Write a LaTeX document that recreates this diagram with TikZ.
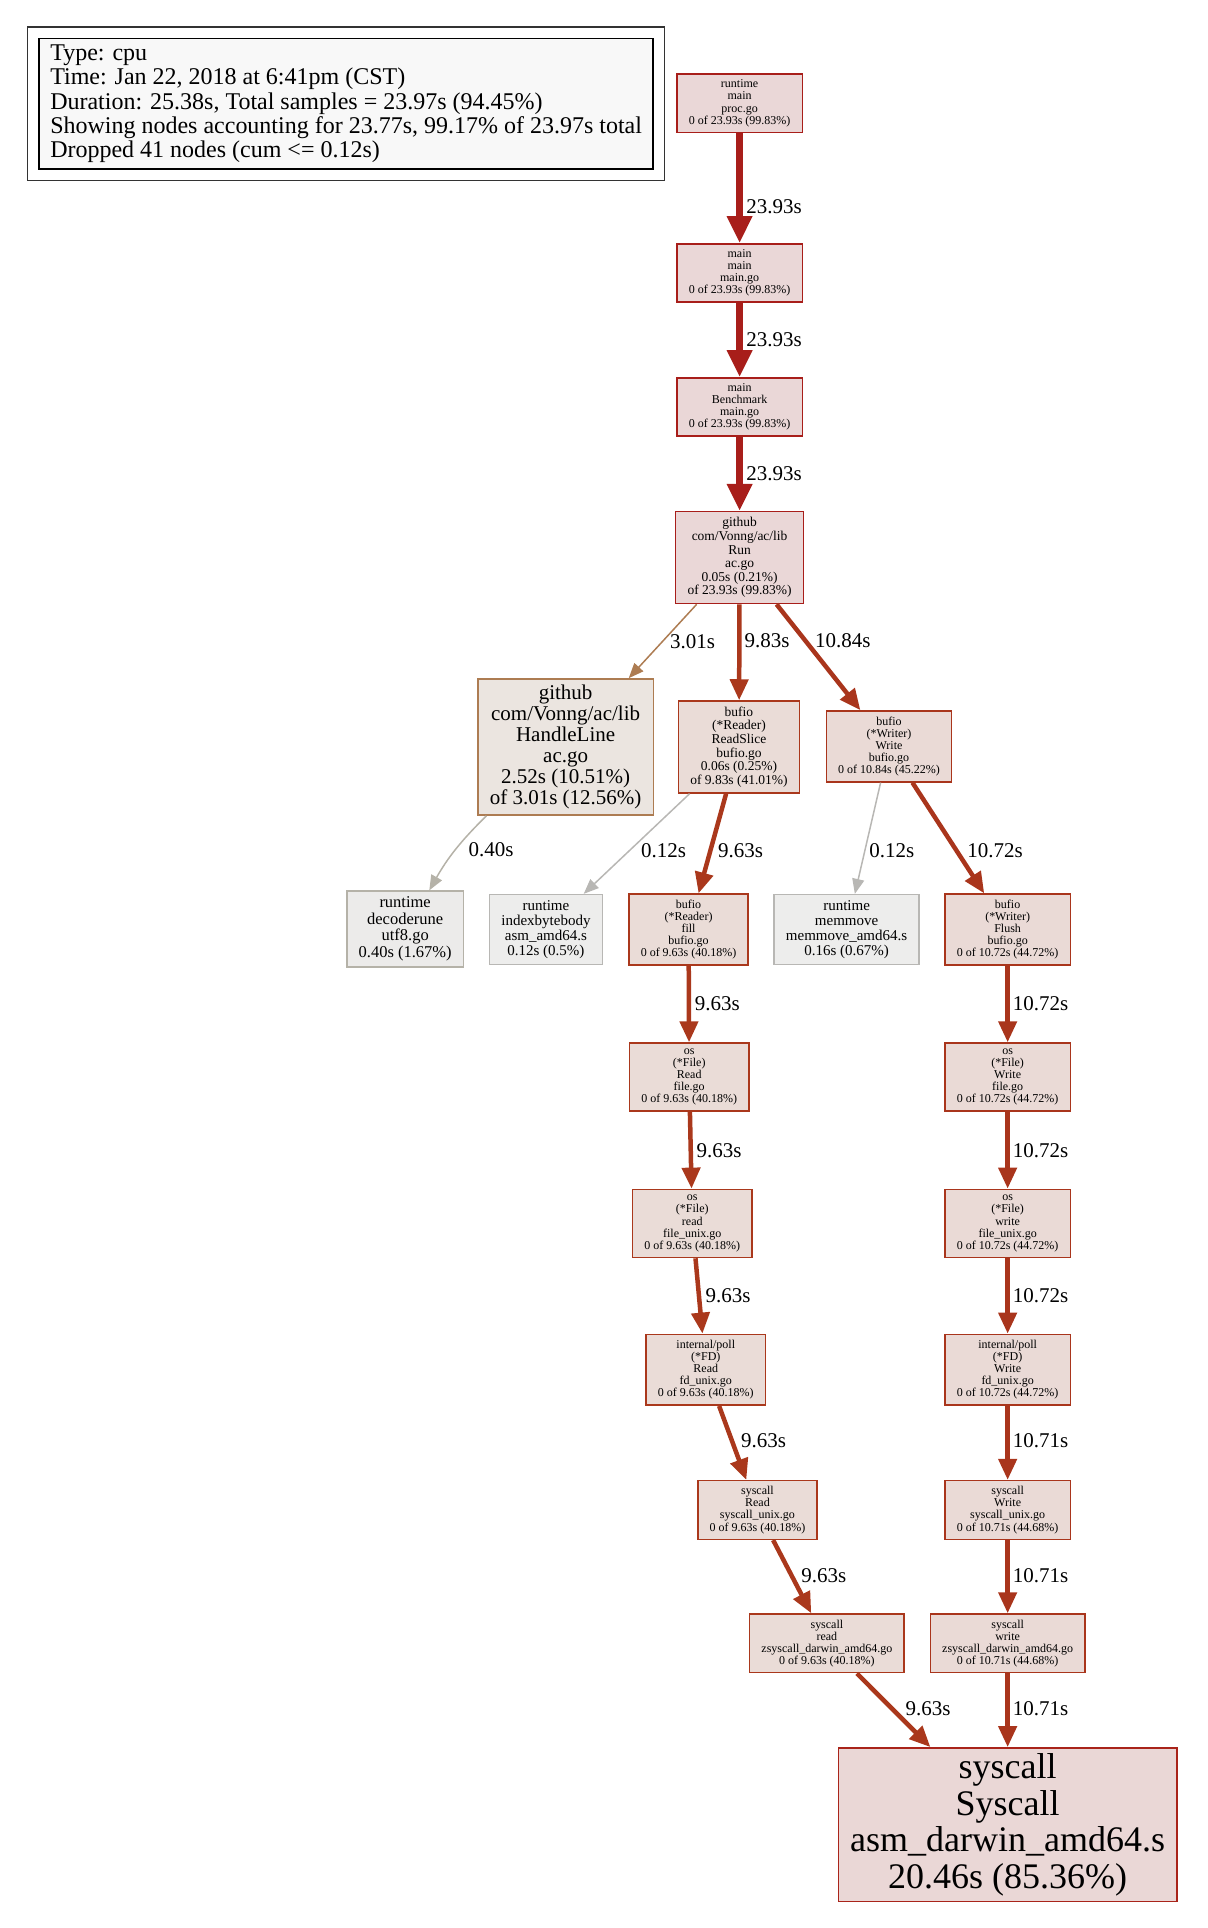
\documentclass[tikz,border=0pt]{standalone}
\usepackage{fontspec}
\setmainfont{Liberation Serif}
\usetikzlibrary{arrows.meta, fit}

\definecolor{hotline}{HTML}{A81E1A}
\definecolor{hotfill}{HTML}{EAD7D7}
\definecolor{readline}{HTML}{AA381C}
\definecolor{readfill}{HTML}{EADCD7}
\definecolor{writeline}{HTML}{A9351C}
\definecolor{writefill}{HTML}{EADAD6}
\definecolor{sinkline}{HTML}{A9241A}
\definecolor{sinkfill}{HTML}{EAD7D6}
\definecolor{mildline}{HTML}{AD7C52}
\definecolor{mildfill}{HTML}{EBE5E0}
\definecolor{coolline}{HTML}{B5B2A8}
\definecolor{coolfill}{HTML}{ECEBEA}
\definecolor{coldline}{HTML}{B8B7B4}
\definecolor{coldfill}{HTML}{EDEDEC}
\definecolor{legendfill}{HTML}{F8F8F8}

\tikzstyle{func} = [
    rectangle,
    align=center,
    inner xsep=7.9pt,
    inner ysep=3.8pt,
    line width=1pt,
    draw
]
\tikzstyle{hot} = [func, draw=hotline, fill=hotfill]
\tikzstyle{readpath} = [func, draw=readline, fill=readfill]
\tikzstyle{writepath} = [func, draw=writeline, fill=writefill]
\tikzstyle{sink} = [func, draw=sinkline, fill=sinkfill]
\tikzstyle{mild} = [func, draw=mildline, fill=mildfill]
\tikzstyle{cool} = [func, draw=coolline, fill=coolfill]
\tikzstyle{cold} = [func, draw=coldline, fill=coldfill]

\tikzstyle{fs8} = [font=\fontsize{8}{8.1}\selectfont]
\tikzstyle{fs9} = [font=\fontsize{9}{9.1}\selectfont]
\tikzstyle{fs10} = [font=\fontsize{10}{10.1}\selectfont]
\tikzstyle{fs11} = [font=\fontsize{11}{11.1}\selectfont]
\tikzstyle{fs14} = [font=\fontsize{14}{14.1}\selectfont]
\tikzstyle{fs24} = [font=\fontsize{24}{24.4}\selectfont]

\tikzstyle{arrow} = [->, >={Triangle[length=8pt 2, width=6pt 2]}]
\tikzstyle{fat} = [arrow, line width=5pt]
\tikzstyle{bold} = [arrow, line width=3pt]
\tikzstyle{slim} = [arrow, line width=1pt]
\tikzstyle{lbl} = [font=\fontsize{14}{14}\selectfont, text=black, inner sep=0pt, anchor=west]

\begin{document}
\begin{tikzpicture}[x=0.82pt, y=-0.82pt]

\useasboundingbox (0,0) rectangle (982,1568);

% legend
\node (legend) [draw, fill=legendfill, line width=1pt, align=left,
    inner xsep=7.4pt, inner ysep=4.2pt,
    font=\fontsize{16}{16.2}\selectfont] at (281.5,84.5)
{Type: cpu\\
Time: Jan 22, 2018 at 6:41pm (CST)\\
Duration: 25.38s, Total samples = 23.97s (94.45\%)\\
Showing nodes accounting for 23.77s, 99.17\% of 23.97s total\\
Dropped 41 nodes (cum <= 0.12s)};
\node (frame) [draw=black!80, line width=1pt, fit=(legend), inner sep=7.2pt] {};

% call chain
\node (rtmain) [hot, fs8] at (601.5,84)
{runtime\\main\\proc.go\\0 of 23.93s (99.83\%)};

\node (mainmain) [hot, fs8] at (601.5,222)
{main\\main\\main.go\\0 of 23.93s (99.83\%)};

\node (bench) [hot, fs8] at (601.5,331)
{main\\Benchmark\\main.go\\0 of 23.93s (99.83\%)};

\node (run) [hot, fs9] at (601.5,453.5)
{github\\com/Vonng/ac/lib\\Run\\ac.go\\0.05s (0.21\%)\\of 23.93s (99.83\%)};

\node (hl) [mild, fs14] at (460,607.5)
{github\\com/Vonng/ac/lib\\HandleLine\\ac.go\\2.52s (10.51\%)\\of 3.01s (12.56\%)};

\node (rs) [readpath, fs9] at (601,607.5)
{bufio\\(*Reader)\\ReadSlice\\bufio.go\\0.06s (0.25\%)\\of 9.83s (41.01\%)};

\node (bw) [writepath, fs8] at (723,607)
{bufio\\(*Writer)\\Write\\bufio.go\\0 of 10.84s (45.22\%)};

\node (dec) [cool, fs11] at (329.5,755.5)
{runtime\\decoderune\\utf8.go\\0.40s (1.67\%)};

\node (ibb) [cold, fs10] at (444,756)
{runtime\\indexbytebody\\asm\_amd64.s\\0.12s (0.5\%)};

\node (fill) [readpath, fs8] at (560,756)
{bufio\\(*Reader)\\fill\\bufio.go\\0 of 9.63s (40.18\%)};

\node (mm) [cold, fs10] at (688.5,756)
{runtime\\memmove\\memmove\_amd64.s\\0.16s (0.67\%)};

\node (flush) [writepath, fs8] at (819.5,756)
{bufio\\(*Writer)\\Flush\\bufio.go\\0 of 10.72s (44.72\%)};

\node (osR) [readpath, fs8] at (560.5,876)
{os\\(*File)\\Read\\file.go\\0 of 9.63s (40.18\%)};

\node (osW) [writepath, fs8] at (819.5,876)
{os\\(*File)\\Write\\file.go\\0 of 10.72s (44.72\%)};

\node (osr) [readpath, fs8] at (563,995)
{os\\(*File)\\read\\file\_unix.go\\0 of 9.63s (40.18\%)};

\node (osw) [writepath, fs8] at (819.5,995)
{os\\(*File)\\write\\file\_unix.go\\0 of 10.72s (44.72\%)};

\node (pollR) [readpath, fs8] at (574,1114)
{internal/poll\\(*FD)\\Read\\fd\_unix.go\\0 of 9.63s (40.18\%)};

\node (pollW) [writepath, fs8] at (819.5,1114)
{internal/poll\\(*FD)\\Write\\fd\_unix.go\\0 of 10.72s (44.72\%)};

\node (scR) [readpath, fs8] at (616,1228)
{syscall\\Read\\syscall\_unix.go\\0 of 9.63s (40.18\%)};

\node (scW) [writepath, fs8] at (819.5,1228)
{syscall\\Write\\syscall\_unix.go\\0 of 10.71s (44.68\%)};

\node (zr) [readpath, fs8] at (672.5,1336.5)
{syscall\\read\\zsyscall\_darwin\_amd64.go\\0 of 9.63s (40.18\%)};

\node (zw) [writepath, fs8] at (819.5,1336.5)
{syscall\\write\\zsyscall\_darwin\_amd64.go\\0 of 10.71s (44.68\%)};

\node (sys) [sink, fs24] at (819.5,1484)
{syscall\\Syscall\\asm\_darwin\_amd64.s\\20.46s (85.36\%)};

% edges
\draw [fat, hotline] (rtmain) -- node[lbl, pos=0.67, xshift=2pt] {23.93s} (mainmain);
\draw [fat, hotline] (mainmain) -- node[lbl, xshift=2pt] {23.93s} (bench);
\draw [fat, hotline] (bench) -- node[lbl, xshift=2pt] {23.93s} (run);
\draw [slim, mildline] (run) -- node[lbl, xshift=4.5pt] {3.01s} (hl);
\draw [bold, readline] (run) -- node[lbl, pos=0.38, xshift=2pt] {9.83s} (rs);
\draw [bold, writeline] (run) -- node[lbl, pos=0.345, xshift=5pt] {10.84s} (bw);
\draw [slim, coolline] (hl.221) to[bend right=8] node[lbl, pos=0.48, xshift=8pt] {0.40s} (dec.58);
\draw [slim, coldline] (rs) -- node[lbl, pos=0.57, xshift=7.4pt] {0.12s} (ibb);
\draw [bold, readline] (rs) -- node[lbl, pos=0.57, xshift=3.7pt] {9.63s} (fill);
\draw [slim, coldline] (bw) -- node[lbl, pos=0.615, xshift=2.5pt] {0.12s} (mm);
\draw [bold, writeline] (bw) -- node[lbl, pos=0.615, xshift=5.7pt] {10.72s} (flush);
\draw [bold, readline] (fill) -- node[lbl, xshift=2.5pt] {9.63s} (osR);
\draw [bold, writeline] (flush) -- node[lbl, xshift=2pt] {10.72s} (osW);
\draw [bold, readline] (osR) -- node[lbl, xshift=2.5pt] {9.63s} (osr);
\draw [bold, writeline] (osW) -- node[lbl, xshift=2pt] {10.72s} (osw);
\draw [bold, readline] (osr) -- node[lbl, xshift=3pt] {9.63s} (pollR);
\draw [bold, writeline] (osw) -- node[lbl, xshift=2pt] {10.72s} (pollW);
\draw [bold, readline] (pollR) -- node[lbl, pos=0.475, xshift=4.6pt] {9.63s} (scR);
\draw [bold, writeline] (pollW) -- node[lbl, pos=0.475, xshift=2pt] {10.71s} (scW);
\draw [bold, readline] (scR) -- node[lbl, pos=0.48, xshift=5.2pt] {9.63s} (zr);
\draw [bold, writeline] (scW) -- node[lbl, pos=0.48, xshift=2pt] {10.71s} (zw);
\draw [bold, readline] (zr) -- node[lbl, pos=0.48, xshift=7.4pt] {9.63s} (sys);
\draw [bold, writeline] (zw) -- node[lbl, pos=0.48, xshift=2pt] {10.71s} (sys);

\end{tikzpicture}
\end{document}
